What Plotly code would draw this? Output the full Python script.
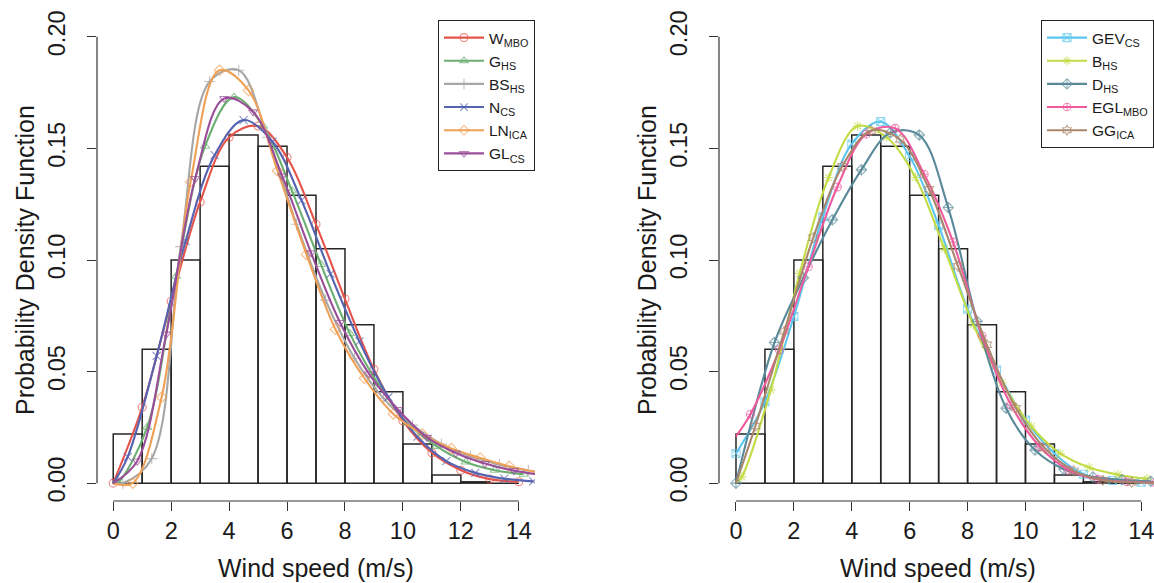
import plotly.graph_objects as go

# ---------------- data ----------------
bin_left = [0, 1, 2, 3, 4, 5, 6, 7, 8, 9, 10, 11, 12, 13]
hist_density = [0.022, 0.060, 0.100, 0.142, 0.156, 0.151, 0.129, 0.105,
                0.071, 0.041, 0.0175, 0.0036, 0.0006, 0.0]

x_ticks = [0, 2, 4, 6, 8, 10, 12, 14]
y_ticks = [0.00, 0.05, 0.10, 0.15, 0.20]

# left panel curves
w_mbo_x = [0, 1, 2, 3, 4, 5, 6, 7, 8, 9, 10, 11, 12, 13, 14]
w_mbo_y = [0, 0.034, 0.0815, 0.126, 0.155, 0.160, 0.146, 0.116, 0.0825, 0.051,
           0.028, 0.0136, 0.0058, 0.0018, 0.0006]

g_hs_x = [0, 0.17, 1.17, 2.17, 3.17, 4.17, 5.17, 6.17, 7.17, 8.17, 9.17, 10.17,
          11.17, 12.17, 13.17, 14.17]
g_hs_y = [0, 0.0004, 0.025, 0.0927, 0.151, 0.173, 0.160, 0.131, 0.098, 0.067,
          0.044, 0.027, 0.0165, 0.0095, 0.0058, 0.0040]

bs_hs_x = [0, 0.33, 1.33, 2.33, 3.33, 4.33, 5.33, 6.33, 7.33, 8.33, 9.33, 10.33,
           11.33, 12.33, 13.33, 14.33]
bs_hs_y = [0, 0.0, 0.011, 0.106, 0.180, 0.185, 0.155, 0.116, 0.082, 0.056,
           0.038, 0.026, 0.0175, 0.012, 0.0083, 0.0057]

n_cs_x = [0, 0.5, 1.5, 2.5, 3.5, 4.5, 5.5, 6.5, 7.5, 8.5, 9.5, 10.5, 11.5, 12.5,
          13.5, 14.5]
n_cs_y = [0, 0.0118, 0.057, 0.1085, 0.147, 0.1627, 0.153, 0.1267, 0.0938, 0.0635,
          0.0385, 0.0208, 0.0099, 0.0046, 0.0020, 0.0008]

ln_ica_x = [0, 0.67, 1.67, 2.67, 3.67, 4.67, 5.67, 6.67, 7.67, 8.67, 9.67, 10.67,
            11.67, 12.67, 13.67, 14.67]
ln_ica_y = [0, 0.0, 0.0385, 0.135, 0.185, 0.176, 0.140, 0.1025, 0.069, 0.047,
            0.031, 0.022, 0.0155, 0.0113, 0.0076, 0.0048]

gl_cs_x = [0, 0.83, 1.83, 2.83, 3.83, 4.83, 5.83, 6.83, 7.83, 8.83, 9.83, 10.83,
           11.83, 12.83, 13.83, 14.83]
gl_cs_y = [0, 0.0099, 0.0668, 0.1365, 0.1724, 0.1664, 0.1377, 0.1032, 0.072, 0.049,
           0.033, 0.0205, 0.0135, 0.0088, 0.0056, 0.0036]

# right panel curves
gev_cs_x = [0, 1, 2, 3, 4, 5, 6, 7, 8, 9, 10, 11, 12, 13, 14]
gev_cs_y = [0.0133, 0.0365, 0.0747, 0.1194, 0.152, 0.162, 0.1464, 0.1155, 0.078,
            0.0508, 0.0283, 0.0133, 0.0040, 0.0012, 0.0004]

b_hs_x = [0, 0.2, 1.2, 2.2, 3.2, 4.2, 5.2, 6.2, 7.2, 8.2, 9.2, 10.2, 11.2, 12.2,
          13.2, 14.2]
b_hs_y = [0, 0.0028, 0.0418, 0.094, 0.137, 0.160, 0.155, 0.137, 0.105, 0.071,
          0.045, 0.0255, 0.0133, 0.0070, 0.0038, 0.0019]

d_hs_x = [0, 1.33, 2.33, 3.33, 4.33, 5.33, 6.33, 7.33, 8.33, 9.33, 10.33, 11.33,
          12.33, 13.33, 14.33]
d_hs_y = [0, 0.063, 0.092, 0.118, 0.1404, 0.157, 0.156, 0.1235, 0.0725, 0.0336,
          0.0148, 0.0062, 0.0028, 0.0015, 0.0008]

egl_mbo_x = [0, 0.5, 1.5, 2.5, 3.5, 4.5, 5.5, 6.5, 7.5, 8.5, 9.5, 10.5, 11.5, 12.5,
             13.5, 14.5]
egl_mbo_y = [0.021, 0.0309, 0.0598, 0.097, 0.1327, 0.1564, 0.159, 0.1384, 0.108,
             0.066, 0.035, 0.0163, 0.0058, 0.0017, 0.0006, 0.0002]

gg_ica_x = [0, 0.67, 1.67, 2.67, 3.67, 4.67, 5.67, 6.67, 7.67, 8.67, 9.67, 10.67,
            11.67, 12.67, 13.67, 14.67]
gg_ica_y = [0, 0.0256, 0.068, 0.110, 0.142, 0.158, 0.154, 0.1317, 0.0972, 0.062,
            0.0336, 0.0156, 0.0055, 0.0013, 0.0004, 0.0001]

# ---------------- styles ----------------
W, H = 1154, 583
FONT = "Liberation Sans, Arial, Helvetica, sans-serif"
TXT = "#1a1a1a"
AX = "#333333"
MS = 8

left_series = [
    ("W<sub>MBO</sub>", w_mbo_x, w_mbo_y, "#E5544B", "circle-open", True),
    ("G<sub>HS</sub>", g_hs_x, g_hs_y, "#6BAE70", "triangle-up-open", False),
    ("BS<sub>HS</sub>", bs_hs_x, bs_hs_y, "#A6A6A6", "cross-thin-open", False),
    ("N<sub>CS</sub>", n_cs_x, n_cs_y, "#5563B0", "x-thin-open", False),
    ("LN<sub>ICA</sub>", ln_ica_x, ln_ica_y, "#EFA055", "diamond-open", False),
    ("GL<sub>CS</sub>", gl_cs_x, gl_cs_y, "#9A4D98", "triangle-down-open", False),
]
right_series = [
    ("GEV<sub>CS</sub>", gev_cs_x, gev_cs_y, "#5CC6EE", "square-x-open", True),
    ("B<sub>HS</sub>", b_hs_x, b_hs_y, "#C3DB45", "asterisk-open", False),
    ("D<sub>HS</sub>", d_hs_x, d_hs_y, "#5A8A9A", "diamond-cross-open", True),
    ("EGL<sub>MBO</sub>", egl_mbo_x, egl_mbo_y, "#EE5A9C", "circle-cross-open", False),
    ("GG<sub>ICA</sub>", gg_ica_x, gg_ica_y, "#A9866B", "hexagram-open", False),
]

fig = go.Figure()

bin_centers = [b + 0.5 for b in bin_left]
for xa, ya in (("x", "y"), ("x2", "y2")):
    fig.add_trace(go.Bar(
        x=bin_centers, y=hist_density, width=1.0, xaxis=xa, yaxis=ya,
        marker=dict(color="rgba(255,255,255,0)", line=dict(color="#262626", width=1.5)),
        showlegend=False, hoverinfo="skip"))


def add_series(series, xa, ya, legend):
    for name, xs, ys, col, sym, start_marker in series:
        sizes = [MS] * len(xs)
        if not start_marker:
            sizes[0] = 0
        fig.add_trace(go.Scatter(
            x=xs, y=ys, xaxis=xa, yaxis=ya, name=name, legend=legend,
            mode="lines+markers",
            line=dict(color=col, width=2.1, shape="spline", smoothing=1.0),
            marker=dict(symbol=sym, size=sizes, color=col, line=dict(color=col, width=1.1)),
        ))


add_series(left_series, "x", "y", "legend")
add_series(right_series, "x2", "y2", "legend2")

# ---------------- layout ----------------
def px_x(p):
    return p / W


def px_y(p):
    return (H - p) / H


ydom = [px_y(501), px_y(19)]
axis_common = dict(showgrid=False, zeroline=False, showline=False, ticks="outside",
                   ticklen=9, tickwidth=1, tickcolor=AX, automargin=False,
                   ticklabeloverflow="allow",
                   tickfont=dict(family=FONT, size=23.5, color=TXT))

legend_common = dict(bgcolor="white", bordercolor="#222", borderwidth=1,
                     font=dict(family=FONT, size=15.5, color=TXT), tracegroupgap=0,
                     itemwidth=40)

fig.update_layout(
    width=W, height=H, margin=dict(l=0, r=0, t=0, b=0, autoexpand=False),
    paper_bgcolor="white", plot_bgcolor="white", barmode="overlay",
    font=dict(family=FONT, color=TXT),
    xaxis=dict(domain=[px_x(97), px_x(535)], range=[-0.56, 14.56], anchor="y",
               tickvals=x_ticks, ticklabelstandoff=0, **axis_common),
    yaxis=dict(domain=ydom, range=[-0.008, 0.208], anchor="x",
               tickvals=y_ticks, tickformat=".2f", tickangle=-90,
               ticklabelstandoff=13, **axis_common),
    xaxis2=dict(domain=[px_x(719), 1.0], range=[-0.587, 14.44], anchor="y2",
                tickvals=x_ticks, ticklabelstandoff=0, **axis_common),
    yaxis2=dict(domain=ydom, range=[-0.008, 0.208], anchor="x2",
                tickvals=y_ticks, tickformat=".2f", tickangle=-90,
                ticklabelstandoff=13, **axis_common),
    legend=dict(x=px_x(535), xanchor="right", y=px_y(20), yanchor="top", **legend_common),
    legend2=dict(x=px_x(1041), xanchor="left", y=px_y(20), yanchor="top", **legend_common),
)

# R-style axis lines spanning first to last tick
for xr, yr in (("x", "y"), ("x2", "y2")):
    fig.add_shape(type="line", xref=xr, yref=yr + " domain", x0=x_ticks[0], x1=x_ticks[-1],
                  y0=0, y1=0, line=dict(color=AX, width=1.2))
    fig.add_shape(type="line", xref=xr + " domain", yref=yr, x0=0, x1=0,
                  y0=y_ticks[0], y1=y_ticks[-1], line=dict(color=AX, width=1.2))

# axis titles
for cx in (316, 938):
    fig.add_annotation(text="Wind speed (m/s)", x=px_x(cx), y=px_y(568), xref="paper",
                       yref="paper", showarrow=False, xanchor="center", yanchor="middle",
                       font=dict(family=FONT, size=25, color=TXT))
for cx in (25, 647):
    fig.add_annotation(text="Probability Density Function", x=px_x(cx), y=px_y(260),
                       xref="paper", yref="paper", showarrow=False, textangle=-90,
                       xanchor="center", yanchor="middle",
                       font=dict(family=FONT, size=25, color=TXT))

fig.write_html("out.html", config={"displayModeBar": False},
               post_script="document.body.style.margin='0';")
